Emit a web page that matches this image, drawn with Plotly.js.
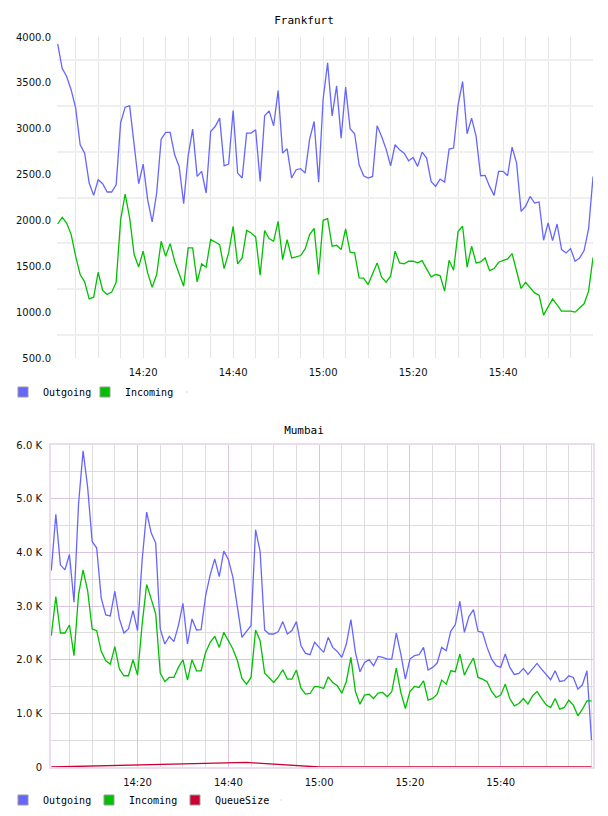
<!DOCTYPE html>
<html>
<head>
<meta charset="utf-8">
<script src="https://cdn.plot.ly/plotly-3.0.1.min.js"></script>
<style>
  html, body { margin: 0; padding: 0; background: #fff; }
  #c1, #c2 { width: 608px; height: 408px; }
</style>
</head>
<body>
<div id="c1"></div>
<div id="c2"></div>
<script>
// ---- data ----
const day = '2013-05-14 ';
const startMinute = 14 * 60 + 1;   // first sample 14:01, one sample per minute
const sampleCount = 120;

const frankfurtOutgoing = [3924,3659,3569,3423,3224,2825,2734,2408,2273,2444,
  2400,2310,2310,2389,3068,3235,3249,2820,2400,2614,
  2226,1983,2299,2886,2959,2959,2716,2589,2183,2705,
  2995,2480,2535,2299,2970,3024,3115,2596,2614,3199,
  2516,2462,2952,2952,2988,2426,3140,3195,3032,3416,
  2734,2781,2462,2553,2564,2516,2886,3079,2418,3324,
  3718,3140,3467,2897,3453,2999,2945,2607,2487,2462,
  2480,3032,2916,2778,2596,2825,2770,2734,2651,2687,
  2589,2745,2680,2426,2371,2451,2418,2778,2789,3260,
  3514,2945,3115,2916,2487,2491,2371,2273,2535,2535,
  2487,2799,2625,2099,2154,2262,2190,2201,1784,1972,
  1780,1961,1682,1646,1693,1555,1591,1671,1907,2480];

const frankfurtIncoming = [1961,2034,1972,1845,1609,1410,1330,1145,1163,1435,
  1236,1192,1218,1326,2009,2288,2027,1628,1493,1664,
  1428,1272,1410,1773,1609,1747,1555,1410,1283,1700,
  1700,1330,1526,1490,1791,1765,1736,1475,1646,1936,
  1526,1591,1892,1863,1820,1403,1889,1802,1773,1990,
  1573,1791,1591,1602,1617,1689,1845,1914,1410,2001,
  2019,1718,1729,1682,1907,1653,1646,1374,1370,1301,
  1417,1537,1381,1326,1392,1664,1537,1526,1555,1555,
  1537,1562,1472,1385,1410,1399,1229,1566,1457,1881,
  1936,1490,1718,1537,1548,1591,1453,1475,1544,1562,
  1580,1638,1446,1258,1326,1272,1210,1185,967,1058,
  1145,1080,1011,1011,1011,1000,1047,1091,1229,1598];

const mumbaiOutgoing = [3661,4708,3767,3674,3960,3070,4900,5891,5218,4203,
  4079,3145,2833,2815,3275,2759,2497,2572,2914,2541,
  3848,4751,4365,4172,2572,2292,2435,2335,2634,3051,
  2292,2759,2553,2559,3194,3581,3879,3549,4023,3867,
  3537,3008,2416,2528,2634,4421,4016,2553,2478,2478,
  2522,2709,2478,2541,2709,2260,2117,2092,2323,2229,
  2136,2416,2229,2154,2042,2292,2746,2136,1775,1949,
  1999,1887,2061,2042,2011,2011,2497,2105,1638,2011,
  2074,2092,2229,1806,1856,1937,2229,2167,2528,2653,
  3089,2509,2802,2933,2528,2509,2229,2011,1887,1856,
  2105,1856,1725,1744,1837,1725,1825,1930,1825,1731,
  1625,1793,1594,1607,1700,1669,1451,1532,1793,504];

const mumbaiIncoming = [2447,3176,2497,2497,2646,2074,3213,3674,3288,2572,
  2541,2155,1980,1918,2242,1825,1700,1700,1999,1712,
  2653,3400,3132,2852,1750,1594,1669,1669,1856,1999,
  1619,1999,1793,1793,2136,2323,2435,2229,2509,2354,
  2198,1980,1650,1544,1669,2553,2354,1750,1656,1575,
  1681,1812,1638,1638,1806,1470,1357,1370,1501,1494,
  1463,1681,1575,1513,1376,1594,2042,1407,1171,1339,
  1357,1277,1376,1389,1308,1401,1843,1389,1090,1407,
  1501,1482,1607,1245,1277,1357,1619,1544,1793,1775,
  2105,1712,1887,2030,1669,1638,1588,1407,1295,1339,
  1544,1277,1140,1183,1277,1171,1326,1407,1277,1158,
  1109,1277,1077,1109,1245,1152,953,1077,1233,1233];

// QueueSize samples (sparse)
const queueTimes = ['14:01', '14:44', '15:00', '16:00'];
const queueSize = [0, 85, 0, 0];

const xTickLabels = ['14:20', '14:40', '15:00', '15:20', '15:40'];
const fraYTicks = [500, 1000, 1500, 2000, 2500, 3000, 3500, 4000];
const mumYTicks = [0, 1000, 2000, 3000, 4000, 5000, 6000];
const mumYTickLabels = ['0', '1.0 K', '2.0 K', '3.0 K', '4.0 K', '5.0 K', '6.0 K'];

const seriesNames = ['Outgoing', 'Incoming', 'QueueSize'];
const colors = ['#6666ff', '#00c000', '#cc0033'];

// ---- helpers ----
function pad(n) { return (n < 10 ? '0' : '') + n; }
const times = [];
for (let i = 0; i < sampleCount; i++) {
  const m = startMinute + i;
  times.push(day + pad(Math.floor(m / 60)) + ':' + pad(m % 60));
}
const tickVals = xTickLabels.map(t => day + t);
const queueX = queueTimes.map(t => day + t);

const tickFont = { family: 'DejaVu Sans', size: 10, color: '#111' };
const legendFont = { family: 'DejaVu Sans Mono', size: 10, color: '#000' };
const titleFont = { family: 'DejaVu Sans Mono', size: 11, color: '#000' };

function lineTrace(x, y, i) {
  return { x: x, y: y, type: 'scatter', mode: 'lines', name: seriesNames[i],
    line: { color: colors[i], width: 1.3 }, showlegend: false, hoverinfo: 'skip' };
}
function legendTrace(i) {
  return { x: [null], y: [null], type: 'scatter', mode: 'markers', name: seriesNames[i],
    marker: { symbol: 'square', size: 10, color: colors[i], line: { color: '#999', width: 1 } } };
}
// empty trailing legend slot so the last label is not clipped
function legendSpacer() {
  return { x: [null], y: [null], type: 'scatter', mode: 'markers', name: ' ',
    marker: { size: 1, opacity: 0 } };
}

// ---- Frankfurt ----
const data1 = [
  lineTrace(times, frankfurtOutgoing, 0),
  lineTrace(times, frankfurtIncoming, 1),
  legendTrace(0), legendTrace(1), legendSpacer()
];
const layout1 = {
  width: 608, height: 408,
  margin: { l: 57, r: 15, t: 37, b: 50, pad: 0 },
  paper_bgcolor: '#fff', plot_bgcolor: '#fff',
  title: { text: 'Frankfurt', font: titleFont, x: 0.5, xanchor: 'center', y: 1 - 20 / 408, yanchor: 'middle' },
  xaxis: {
    type: 'date', range: [day + '14:00:51', day + '15:59:59'],
    tickmode: 'array', tickvals: tickVals, ticktext: xTickLabels,
    showgrid: true, gridcolor: '#e6e6e6', gridwidth: 1,
    minor: { tick0: day + '14:00', dtick: 300000, showgrid: true, gridcolor: '#e6e6e6', gridwidth: 1 },
    showline: false, zeroline: false, ticks: '', ticklabelstandoff: 7, tickfont: tickFont
  },
  yaxis: {
    range: [500, 4000], tickmode: 'array', tickvals: fraYTicks, tickformat: '.1f',
    showgrid: false,
    minor: { tick0: 750, dtick: 500, showgrid: true, gridcolor: '#efefef', gridwidth: 2 },
    showline: false, zeroline: false, ticks: '', ticklabelstandoff: 5, tickfont: tickFont
  },
  showlegend: true,
  legend: { orientation: 'h', xref: 'container', yref: 'container', x: 3 / 608, y: 1 - 392 / 408,
    xanchor: 'left', yanchor: 'middle', font: legendFont, bgcolor: 'rgba(0,0,0,0)',
    entrywidth: 37, entrywidthmode: 'pixels' },
  hovermode: false
};

// ---- Mumbai ----
const data2 = [
  lineTrace(times, mumbaiOutgoing, 0),
  lineTrace(times, mumbaiIncoming, 1),
  lineTrace(queueX, queueSize, 2),
  legendTrace(0), legendTrace(1), legendTrace(2), legendSpacer()
];
const layout2 = {
  width: 608, height: 408,
  margin: { l: 51, r: 15, t: 37, b: 49, pad: 0 },
  paper_bgcolor: '#fff', plot_bgcolor: '#fff',
  title: { text: 'Mumbai', font: titleFont, x: 0.5, xanchor: 'center', y: 1 - 22 / 408, yanchor: 'middle' },
  xaxis: {
    type: 'date', range: [day + '14:00:56', day + '16:00:20'],
    tickmode: 'array', tickvals: tickVals, ticktext: xTickLabels,
    showgrid: true, gridcolor: '#dcc3e0', gridwidth: 1,
    minor: { tick0: day + '14:00', dtick: 300000, showgrid: true, gridcolor: '#dddddd', gridwidth: 1 },
    showline: true, mirror: true, linecolor: '#ecdcef', linewidth: 2,
    zeroline: false, ticks: '', ticklabelstandoff: 5, tickfont: tickFont
  },
  yaxis: {
    range: [0, 6000], tickmode: 'array', tickvals: mumYTicks, ticktext: mumYTickLabels,
    showgrid: true, gridcolor: '#dcc3e0', gridwidth: 1,
    minor: { tick0: 0, dtick: 500, showgrid: true, gridcolor: '#dddddd', gridwidth: 1 },
    showline: true, mirror: true, linecolor: '#ecdcef', linewidth: 2,
    zeroline: false, ticks: '', ticklabelstandoff: 5, tickfont: tickFont
  },
  showlegend: true,
  legend: { orientation: 'h', xref: 'container', yref: 'container', x: 3 / 608, y: 1 - 392 / 408,
    xanchor: 'left', yanchor: 'middle', font: legendFont, bgcolor: 'rgba(0,0,0,0)',
    entrywidth: 41, entrywidthmode: 'pixels' },
  hovermode: false
};

const config = { staticPlot: true, displayModeBar: false };
Plotly.newPlot('c1', data1, layout1, config);
Plotly.newPlot('c2', data2, layout2, config);
</script>
</body>
</html>
